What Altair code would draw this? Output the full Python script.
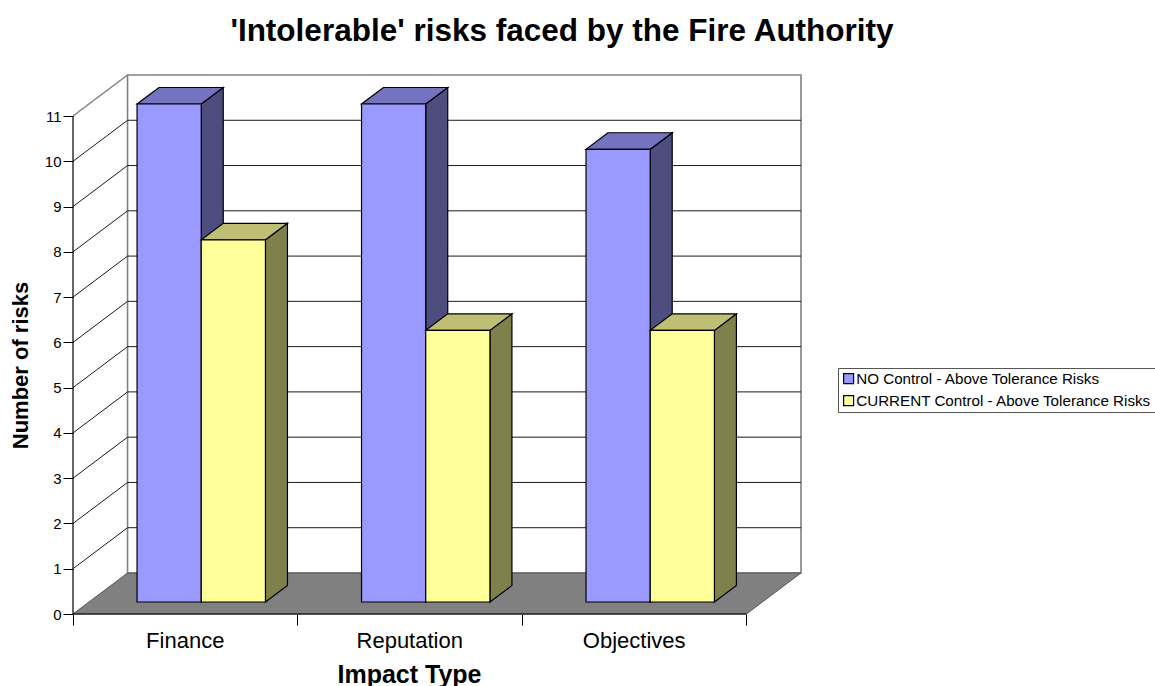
import altair as alt
import pandas as pd

# Chart content
TITLE = "'Intolerable' risks faced by the Fire Authority"
CATEGORIES = ["Finance", "Reputation", "Objectives"]
SERIES = ["NO Control - Above Tolerance Risks", "CURRENT Control - Above Tolerance Risks"]
NO_CONTROL = [11, 11, 10]
CURRENT_CONTROL = [8, 6, 6]
Y_TICKS = list(range(12))
X_TITLE = "Impact Type"
Y_TITLE = "Number of risks"

# 3D projection, in axis units (x: categories, y: risks)
WALL_DX, WALL_DY = 0.243, 0.906
BAR_DX, BAR_DY = 0.098, 0.365
BAR_LEFT, BAR_WIDTH = 0.2853, 0.286
BAR_BASE = 0.265

FACE_COLOURS = {
    SERIES[0]: {"front": "#9999FF", "top": "#7373BF", "side": "#4D4D80"},
    SERIES[1]: {"front": "#FFFF99", "top": "#BFBF73", "side": "#80804D"},
}

X_SCALE = alt.Scale(domain=[0, len(CATEGORIES) + WALL_DX], nice=False, zero=False)
Y_SCALE = alt.Scale(domain=[0, Y_TICKS[-1] + WALL_DY], nice=False, zero=False)

# Every layer shares these axes, so they merge into one pair
X_AXIS = alt.Axis(
    values=list(range(len(CATEGORIES) + 1)), labels=False, domain=False, grid=False, tickColor="black",
    tickSize=11, tickWidth=1, titleFont="Liberation Sans", titleFontSize=25, titleColor="black",
    titleFontWeight="bold", titleX=336, titleY=60, titleBaseline="middle", titleAnchor="middle",
)
Y_AXIS = alt.Axis(
    values=Y_TICKS, domain=False, grid=False, tickColor="black", tickSize=10, tickWidth=1,
    labelFont="Liberation Sans", labelFontSize=15, labelColor="black", labelPadding=2, format="d",
    titleFont="Liberation Sans", titleFontSize=22, titleColor="black", titleFontWeight="bold",
    titleX=-53, titleY=290, titleAngle=270, titleBaseline="middle", titleAnchor="middle",
)


def qx(field="x"):
    return alt.X(f"{field}:Q", scale=X_SCALE, axis=X_AXIS, title=X_TITLE, stack=None)


def qy(field="y"):
    return alt.Y(f"{field}:Q", scale=Y_SCALE, axis=Y_AXIS, title=Y_TITLE, stack=None)


def polyline(mark, rows):
    frame = pd.DataFrame(rows, columns=["id", "x", "y"])
    return alt.Chart(frame).mark_line(**mark).encode(x=qx(), y=qy(), detail="id:N")


def bar_faces(values, slot, name):
    colours = FACE_COLOURS[name]
    front, top, side = [], [], []
    for i, v in enumerate(values):
        left = i + BAR_LEFT + slot * BAR_WIDTH
        right = left + BAR_WIDTH
        upper = v + BAR_BASE
        front.append({"x": left, "x2": right, "y": BAR_BASE, "y2": upper, "series": name})
        top += [
            {"id": i, "y": upper, "x": left, "x2": right},
            {"id": i, "y": upper + BAR_DY, "x": left + BAR_DX, "x2": right + BAR_DX},
        ]
        side += [
            {"id": i, "x": right, "y": BAR_BASE, "y2": upper},
            {"id": i, "x": right + BAR_DX, "y": BAR_BASE + BAR_DY, "y2": upper + BAR_DY},
        ]
    edge = dict(stroke="black", strokeWidth=1.2)
    side_layer = alt.Chart(pd.DataFrame(side)).mark_area(color=colours["side"], **edge).encode(
        x=qx(), y=qy(), y2="y2:Q", detail="id:N"
    )
    top_layer = alt.Chart(pd.DataFrame(top)).mark_area(orient="horizontal", color=colours["top"], **edge).encode(
        y=qy(), x=qx(), x2="x2:Q", detail="id:N"
    )
    front_layer = alt.Chart(pd.DataFrame(front)).mark_rect(**edge).encode(
        x=qx(), x2="x2:Q", y=qy(), y2="y2:Q",
        fill=alt.Fill(
            "series:N",
            scale=alt.Scale(domain=SERIES, range=[FACE_COLOURS[s]["front"] for s in SERIES]),
            legend=alt.Legend(
                title=None, orient="none", legendX=765, legendY=293,
                fillColor="white", strokeColor="#555555", padding=3,
                symbolType="square", symbolSize=100, symbolStrokeColor="black",
                symbolStrokeWidth=1.2, symbolOpacity=1, labelFont="Liberation Sans",
                labelFontSize=15.2, labelColor="black", labelLimit=400, rowPadding=6,
                labelOffset=0, columnPadding=0,
            ),
        ),
    )
    return [side_layer, top_layer, front_layer]


n = len(CATEGORIES)
top_tick = Y_TICKS[-1]

wall = alt.Chart(pd.DataFrame([{
    "x": WALL_DX, "x2": n + WALL_DX, "y": WALL_DY, "y2": top_tick + WALL_DY,
}])).mark_rect(fill="white", stroke="#808080", strokeWidth=1.6).encode(
    x=qx(), x2="x2:Q", y=qy(), y2="y2:Q",
)

floor = alt.Chart(pd.DataFrame([
    {"y": 0, "x": 0, "x2": n},
    {"y": WALL_DY, "x": WALL_DX, "x2": n + WALL_DX},
])).mark_area(orient="horizontal", color="#808080", stroke="#555555", strokeWidth=1).encode(
    y=qy(), x=qx(), x2="x2:Q"
)

inner = [t for t in Y_TICKS if 0 < t < top_tick]
back_grid = polyline(
    dict(color="#1a1a1a", strokeWidth=1),
    [r for t in inner for r in ((t, WALL_DX, t + WALL_DY), (t, n + WALL_DX, t + WALL_DY))],
)
side_grid = polyline(
    dict(color="#1a1a1a", strokeWidth=1),
    [r for t in inner for r in ((t, 0, t), (t, WALL_DX, t + WALL_DY))],
)
top_edge = polyline(
    dict(color="#808080", strokeWidth=1.5),
    [(0, 0, top_tick), (0, WALL_DX, top_tick + WALL_DY)],
)
axis_lines = polyline(
    dict(color="black", strokeWidth=1.2),
    [("h", 0, 0), ("h", n, 0), ("v", 0, 0), ("v", 0, top_tick)],
)

category_labels = alt.Chart(pd.DataFrame({
    "x": [i + 0.5 for i in range(n)], "y": [0] * n, "label": CATEGORIES,
})).mark_text(font="Liberation Sans", fontSize=22, color="black", dy=27, baseline="middle").encode(
    x=qx(), y=qy(), text="label:N"
)

layers = [wall, floor, back_grid, side_grid, top_edge]
layers += bar_faces(NO_CONTROL, 0, SERIES[0])
layers += bar_faces(CURRENT_CONTROL, 1, SERIES[1])
layers += [axis_lines, category_labels]

chart = alt.layer(*layers).properties(
    width=728,
    height=539,
    padding={"left": 73, "top": 75, "right": 354, "bottom": 72},
    autosize=alt.AutoSizeParams(type="none"),
    background="white",
    title=alt.TitleParams(
        TITLE, font="Liberation Sans", fontSize=31.5, fontWeight="bold", color="black",
        anchor="middle", frame="group", dx=125, offset=0, baseline="alphabetic",
    ),
).configure_view(stroke=None)

chart.save("out.html", embed_options={"renderer": "svg", "actions": False})
